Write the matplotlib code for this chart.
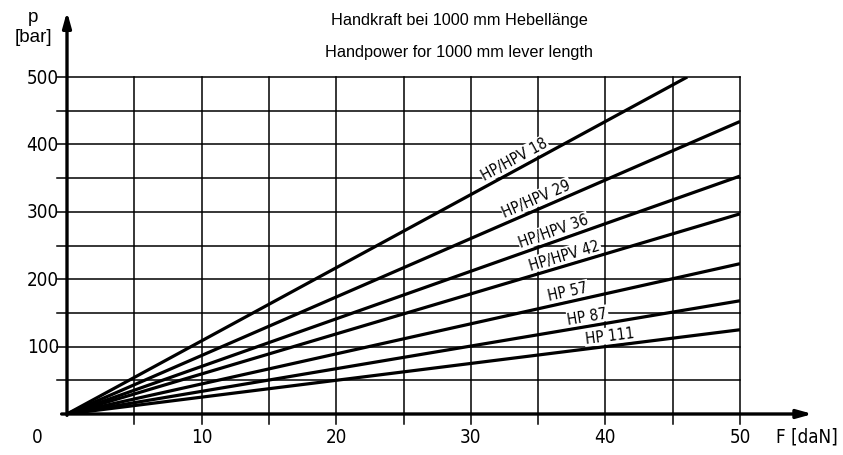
import numpy as np
import matplotlib
matplotlib.use("Agg")
import matplotlib.pyplot as plt

# ---- data ----
series_names = ["HP/HPV 18", "HP/HPV 29", "HP/HPV 36", "HP/HPV 42", "HP 57", "HP 87", "HP 111"]
# pressure (bar) per daN of hand force
slopes = [10.85, 8.68, 7.06, 5.94, 4.46, 3.36, 2.5]
label_x = [33.6, 35.2, 36.4, 37.2, 37.4, 38.8, 40.4]
x_ticks = [10, 20, 30, 40, 50]
y_ticks = [100, 200, 300, 400, 500]
title_de = "Handkraft bei 1000 mm Hebellänge"
title_en = "Handpower for 1000 mm lever length"

W, H = 843, 456
fig = plt.figure(figsize=(W / 100, H / 100), dpi=100)
x0, x1 = 67, 740
y0, y1 = 415, 78
ax = fig.add_axes([x0 / W, (H - y0) / H, (x1 - x0) / W, (y0 - y1) / H])
ax.set_xlim(0, 50)
ax.set_ylim(0, 500)
ax.axis("off")

tickfont = dict(family="DejaVu Sans", fontstretch="condensed", fontsize=13.5)

# grid
for gx in np.arange(5, 50.01, 5):
    ax.plot([gx, gx], [-15, 500], color="black", lw=1.1, clip_on=False, zorder=1)
for gy in np.arange(50, 500.01, 50):
    ax.plot([-0.75, 50], [gy, gy], color="black", lw=1.1, clip_on=False, zorder=1)

# axes with arrows
ax.annotate("", xy=(55.4, 0), xytext=(-0.4, 0),
            arrowprops=dict(arrowstyle="-|>,head_length=0.9,head_width=0.25", lw=2.4,
                            color="black", shrinkA=0, shrinkB=0),
            annotation_clip=False, zorder=3)
ax.annotate("", xy=(0, 597), xytext=(0, -2),
            arrowprops=dict(arrowstyle="-|>,head_length=0.9,head_width=0.25", lw=2.4,
                            color="black", shrinkA=0, shrinkB=0),
            annotation_clip=False, zorder=3)

# series lines
for name, s, lx in zip(series_names, slopes, label_x):
    xe = min(50, 500 / s)
    ax.plot([0, xe], [0, s * xe], color="black", lw=2.3, solid_capstyle="butt", zorder=2)
    p1 = ax.transData.transform((0, 0))
    p2 = ax.transData.transform((10, 10 * s))
    sang = np.degrees(np.arctan2(p2[1] - p1[1], p2[0] - p1[0]))
    off = 7.5
    ax.annotate(name, xy=(lx, s * lx),
                xytext=(-off * np.sin(np.radians(sang)), off * np.cos(np.radians(sang))),
                textcoords="offset points",
                ha="center", va="center", rotation=sang, rotation_mode="anchor",
                fontfamily="DejaVu Sans", fontstretch="condensed", fontsize=11,
                bbox=dict(facecolor="white", edgecolor="none", pad=0.5), zorder=4)

# tick labels
for xv in x_ticks:
    ax.text(xv, -33, str(xv), ha="center", va="center", **tickfont)
ax.text(-2.2, -33, "0", ha="center", va="center", **tickfont)
for yv in y_ticks:
    ax.text(-0.6, yv, str(yv), ha="right", va="center", **tickfont)
ax.text(52.7, -33, "F [daN]", ha="left", va="center", **tickfont)

# y label
fig.text(33 / W, 1 - 18 / H, "p", ha="center", va="center", family="Liberation Sans", fontsize=13.5)
fig.text(33 / W, 1 - 38 / H, "[bar]", ha="center", va="center", family="Liberation Sans", fontsize=13.5)

# titles
fig.text(459 / W, 1 - 20 / H, title_de, ha="center", va="center", family="Liberation Sans", fontsize=11.7)
fig.text(459 / W, 1 - 52 / H, title_en, ha="center", va="center", family="Liberation Sans", fontsize=11.7)

fig.savefig("out.png", dpi=100, facecolor="white")
